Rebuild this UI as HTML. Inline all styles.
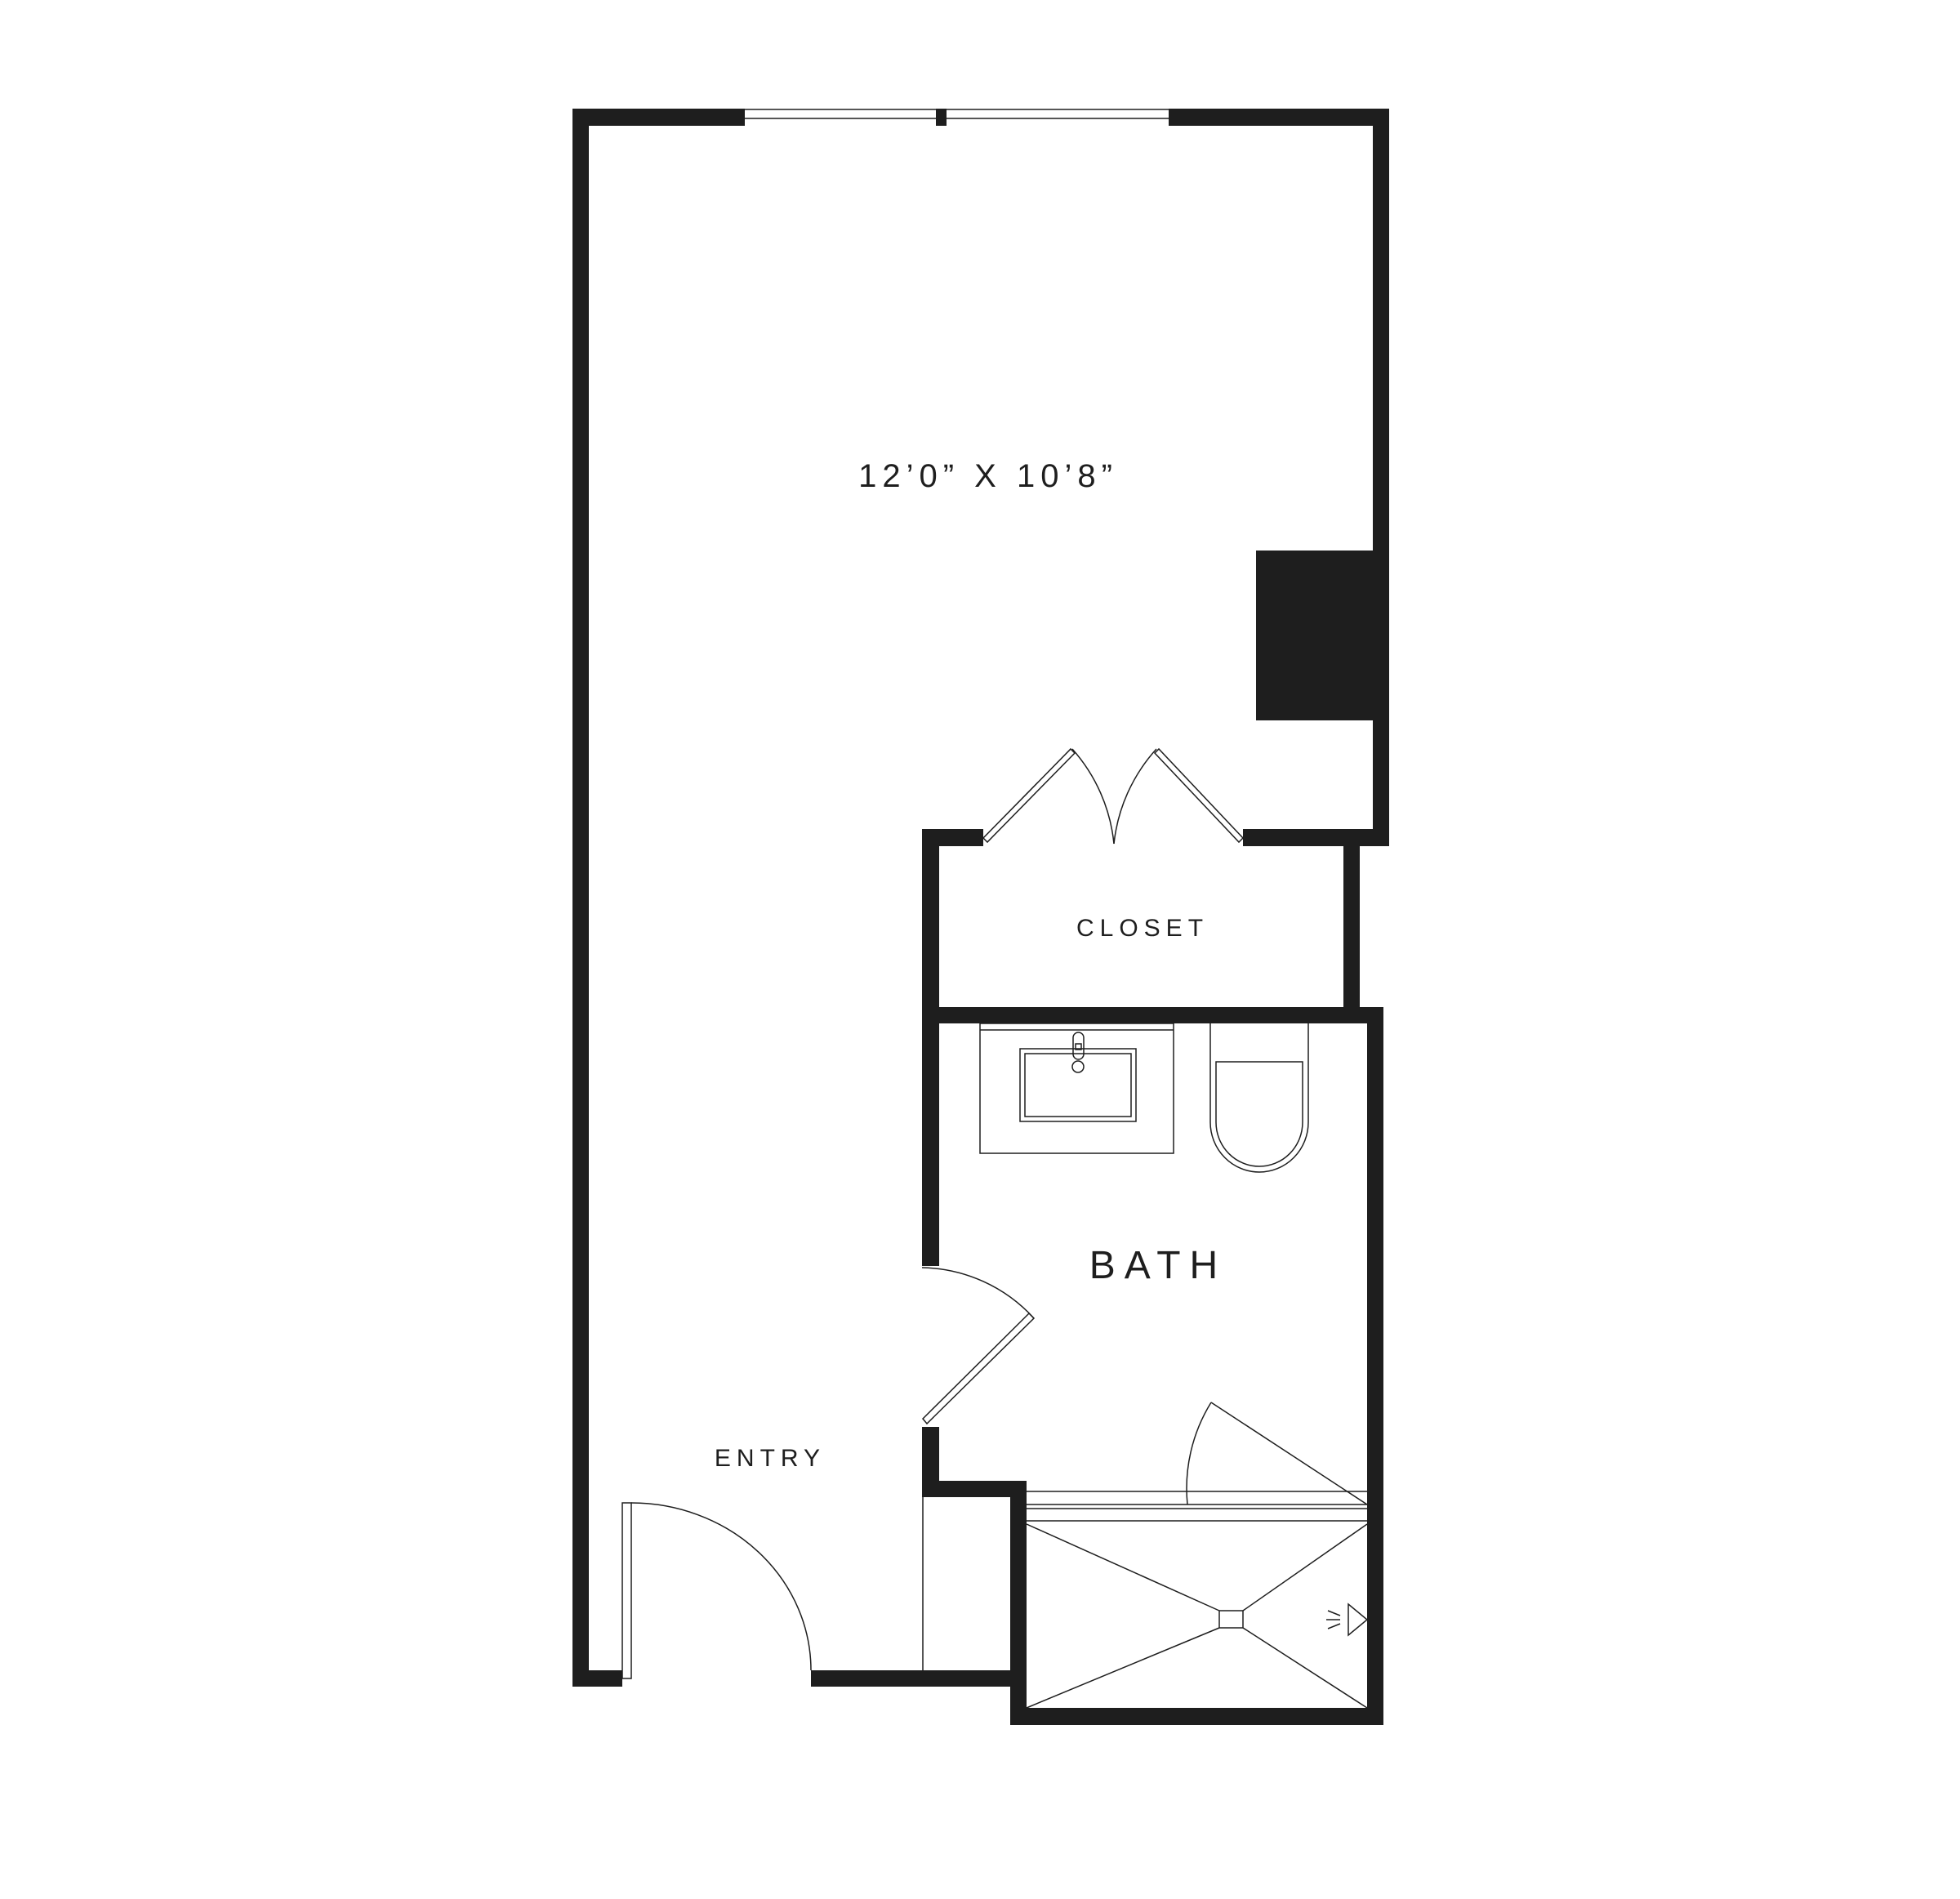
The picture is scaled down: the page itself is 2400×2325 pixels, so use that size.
<!DOCTYPE html>
<html><head><meta charset="utf-8"><style>
html,body{margin:0;padding:0;background:#fff;}
svg{display:block;}
text{font-family:"Liberation Sans",sans-serif;fill:#1e1e1e;}
</style></head><body>
<svg width="2400" height="2325" viewBox="0 0 2400 2325" xmlns="http://www.w3.org/2000/svg">
<rect width="2400" height="2325" fill="#fff"/>
<g fill="#1e1e1e">
<rect x="701" y="133" width="20" height="1932"/>
<rect x="701" y="133" width="211" height="21"/>
<rect x="1146" y="133" width="13" height="21"/>
<rect x="1431" y="133" width="270" height="21"/>
<rect x="1681" y="133" width="20" height="903"/>
<rect x="1538" y="674" width="163" height="208"/>
<rect x="1522" y="1015" width="179" height="21"/>
<rect x="1129" y="1015" width="75" height="21"/>
<rect x="1129" y="1015" width="21" height="535"/>
<rect x="1645" y="1015" width="20" height="229"/>
<rect x="1129" y="1233" width="565" height="20"/>
<rect x="1674" y="1233" width="20" height="879"/>
<rect x="1237" y="2091" width="457" height="21"/>
<rect x="1237" y="1813" width="20" height="299"/>
<rect x="1129" y="1747" width="21" height="86"/>
<rect x="1129" y="1813" width="128" height="20"/>
<rect x="701" y="2045" width="61" height="20"/>
<rect x="993" y="2045" width="264" height="20"/>
</g>
<g fill="none" stroke="#1e1e1e" stroke-width="1.5">
<line x1="912" y1="134" x2="1146" y2="134"/><line x1="912" y1="145" x2="1146" y2="145"/>
<line x1="1159" y1="134" x2="1431" y2="134"/><line x1="1159" y1="145" x2="1431" y2="145"/>
<polygon points="1204,1026 1209,1031 1316,922 1311,917"/>
<path d="M1313,917 A205,205 0 0 1 1364,1033"/>
<polygon points="1522,1026 1517,1031 1414,922 1419,917"/>
<path d="M1416,917 A205,205 0 0 0 1364,1033"/>
<path d="M1129,1552 A190,190 0 0 1 1266,1614"/>
<polygon points="1266,1614 1260,1608 1130,1737 1135,1743"/>
<rect x="762" y="1840" width="11" height="215"/>
<path d="M773,1840 A220,205 0 0 1 993,2045"/>
<line x1="1130" y1="1833" x2="1130" y2="2045"/>
<rect x="1200" y="1253" width="237" height="159"/>
<line x1="1200" y1="1261" x2="1437" y2="1261"/>
<rect x="1249" y="1284" width="142" height="89"/>
<rect x="1255" y="1290" width="130" height="77"/>
<rect x="1314" y="1264" width="13" height="33" rx="6.5"/>
<rect x="1317" y="1278" width="7" height="7"/>
<circle cx="1320" cy="1306" r="7" fill="#fff"/>
<path d="M1482,1253 L1482,1374 A60,61 0 0 0 1602,1374 L1602,1253"/>
<path d="M1489,1300 L1595,1300 L1595,1374 A53,54 0 0 1 1489,1374 Z"/>
<line x1="1257" y1="1826" x2="1674" y2="1826"/>
<line x1="1257" y1="1842" x2="1674" y2="1842"/>
<line x1="1257" y1="1847" x2="1674" y2="1847"/>
<line x1="1257" y1="1862" x2="1674" y2="1862"/>
<line x1="1483" y1="1717" x2="1674" y2="1842"/>
<path d="M1483,1717 A200,200 0 0 0 1454,1842"/>
<rect x="1493" y="1972" width="29" height="21"/>
<line x1="1257" y1="1866" x2="1493" y2="1972"/>
<line x1="1674" y1="1866" x2="1522" y2="1972"/>
<line x1="1257" y1="2091" x2="1493" y2="1993"/>
<line x1="1674" y1="2091" x2="1522" y2="1993"/>
<polygon points="1651,1964 1674,1983 1651,2002"/>
<line x1="1626" y1="1972" x2="1641" y2="1978"/>
<line x1="1624" y1="1983" x2="1641" y2="1983"/>
<line x1="1626" y1="1994" x2="1641" y2="1988"/>
</g>
<text x="1210" y="596" font-size="40" text-anchor="middle" letter-spacing="7">12’0”  X  10’8”</text>
<text x="1399" y="1146" font-size="30" text-anchor="middle" letter-spacing="7">CLOSET</text>
<text x="1418" y="1565" font-size="48" text-anchor="middle" letter-spacing="11">BATH</text>
<text x="943" y="1795" font-size="30" text-anchor="middle" letter-spacing="7">ENTRY</text>
</svg>
</body></html>
